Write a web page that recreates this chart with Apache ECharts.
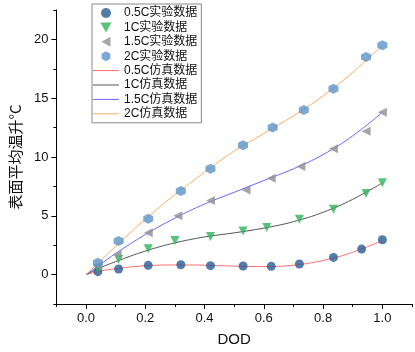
<!DOCTYPE html>
<html>
<head>
<meta charset="utf-8">
<script src="https://cdn.jsdelivr.net/npm/echarts@6/dist/echarts.min.js"></script>
<style>
  html, body { margin: 0; padding: 0; background: #fff; }
  #main { width: 415px; height: 352px; }
</style>
</head>
<body>
<div id="main"></div>
<script>
// 实验数据 (DOD, 温升)
var exp_05_x = [0.04, 0.11, 0.21, 0.32, 0.42, 0.53, 0.625, 0.72, 0.835, 0.93, 1.0];
var exp_05_y = [0.25, 0.48, 0.79, 0.84, 0.76, 0.73, 0.70, 0.90, 1.46, 2.17, 2.96];
var exp_1_x = [0.04, 0.11, 0.21, 0.30, 0.42, 0.53, 0.61, 0.72, 0.835, 0.945, 1.0];
var exp_1_y = [0.5, 1.3, 2.2, 2.9, 3.25, 3.7, 4.0, 4.7, 5.55, 6.9, 7.8];
var exp_15_x = [0.04, 0.105, 0.21, 0.31, 0.42, 0.54, 0.625, 0.725, 0.835, 0.945, 1.0];
var exp_15_y = [0.7, 1.7, 3.55, 5.0, 6.3, 7.2, 8.2, 9.2, 10.7, 12.2, 13.8];
var exp_2_x = [0.04, 0.11, 0.21, 0.32, 0.42, 0.53, 0.63, 0.735, 0.835, 0.945, 1.0];
var exp_2_y = [1.0, 2.85, 4.75, 7.1, 9.0, 11.0, 12.5, 14.0, 15.8, 18.5, 19.5];

// 仿真数据
var sim_x = [0, 0.05, 0.1, 0.2, 0.3, 0.4, 0.5, 0.6, 0.7, 0.8, 0.9, 1.0];
var sim_05 = [0, 0.3, 0.5, 0.75, 0.82, 0.8, 0.72, 0.68, 0.8, 1.2, 1.9, 2.9];
var sim_1 = [0, 0.6, 1.1, 2.0, 2.7, 3.2, 3.55, 3.95, 4.5, 5.3, 6.4, 7.8];
var sim_15 = [0, 0.9, 1.8, 3.4, 4.8, 6.0, 7.0, 8.0, 9.0, 10.2, 11.8, 13.8];
var sim_2 = [0, 1.2, 2.4, 4.7, 6.8, 8.7, 10.5, 12.0, 13.5, 15.2, 17.2, 19.5];

var x_labels = [0, 0.2, 0.4, 0.6, 0.8, 1.0];
var x_minor = [-0.1, 0.1, 0.3, 0.5, 0.7, 0.9, 1.1];
var y_labels = [0, 5, 10, 15, 20];
var y_minor = [-2.5, 2.5, 7.5, 12.5, 17.5, 22.5];

function pairs(xs, ys) {
    var out = [];
    for (var i = 0; i < xs.length; i++) {
        out.push([xs[i], ys[i]]);
    }
    return out;
}

var sym_down = 'path://M0,0 L10,0 L5,9 Z';
var sym_left = 'path://M9,0 L9,10 L0,5 Z';
var sym_hex = 'path://M5,0 L9.33,2.5 L9.33,7.5 L5,10 L0.67,7.5 L0.67,2.5 Z';
var sym_line = 'path://M0,0 L26,0 L26,1 L0,1 Z';

var font_en = 'Arial, "Liberation Sans", "Noto Sans CJK SC", sans-serif';

var myChart = echarts.init(document.getElementById('main'));
var option = {
    animation: false,
    textStyle: { fontFamily: font_en },
    grid: { left: 45, right: 3, top: 10, bottom: 47 },
    legend: {
        orient: 'vertical',
        left: 92,
        top: 4,
        padding: [3, 4, 3, 1],
        borderColor: '#888',
        borderWidth: 1,
        itemWidth: 26,
        itemHeight: 10,
        itemGap: 2.4,
        textStyle: { fontSize: 12, lineHeight: 12, color: '#111', fontFamily: font_en },
        data: [
            { name: '0.5C实验数据', icon: 'circle' },
            { name: '1C实验数据', icon: sym_down },
            { name: '1.5C实验数据', icon: sym_left },
            { name: '2C实验数据', icon: sym_hex },
            { name: '0.5C仿真数据', icon: sym_line },
            { name: '1C仿真数据', icon: sym_line },
            { name: '1.5C仿真数据', icon: sym_line },
            { name: '2C仿真数据', icon: sym_line }
        ]
    },
    xAxis: [
        {
            type: 'value',
            min: -0.1,
            max: 1.1,
            name: 'DOD',
            nameLocation: 'middle',
            nameGap: 28,
            nameTextStyle: { fontSize: 15, color: '#111' },
            splitLine: { show: false },
            axisLine: { onZero: false, lineStyle: { color: '#000', width: 1 } },
            axisTick: { customValues: x_labels, length: 5, lineStyle: { color: '#000' } },
            axisLabel: {
                customValues: x_labels,
                fontSize: 13,
                color: '#111',
                margin: 8,
                formatter: function (v) { return v.toFixed(1); }
            }
        },
        {
            type: 'value',
            min: -0.1,
            max: 1.1,
            position: 'bottom',
            offset: 0,
            splitLine: { show: false },
            axisLine: { show: false, onZero: false },
            axisTick: { customValues: x_minor, length: 3, lineStyle: { color: '#000' } },
            axisLabel: { show: false }
        }
    ],
    yAxis: [
        {
            type: 'value',
            min: -2.5,
            max: 22.5,
            name: '表面平均温升°C',
            nameLocation: 'middle',
            nameGap: 28,
            nameTextStyle: { fontSize: 15, color: '#111', fontFamily: '"Noto Sans CJK SC", sans-serif' },
            splitLine: { show: false },
            axisLine: { onZero: false, lineStyle: { color: '#000', width: 1 } },
            axisTick: { customValues: y_labels, length: 5, lineStyle: { color: '#000' } },
            axisLabel: { customValues: y_labels, fontSize: 13, color: '#111', margin: 8 }
        },
        {
            type: 'value',
            min: -2.5,
            max: 22.5,
            position: 'left',
            offset: 0,
            splitLine: { show: false },
            axisLine: { show: false, onZero: false },
            axisTick: { customValues: y_minor, length: 3, lineStyle: { color: '#000' } },
            axisLabel: { show: false }
        }
    ],
    series: [
        {
            name: '0.5C实验数据', type: 'scatter', z: 3,
            symbol: 'circle', symbolSize: 9,
            itemStyle: { color: '#2a5b92' },
            data: pairs(exp_05_x, exp_05_y)
        },
        {
            name: '1C实验数据', type: 'scatter', z: 3,
            symbol: sym_down, symbolSize: 9,
            itemStyle: { color: '#2fb35d' },
            data: pairs(exp_1_x, exp_1_y)
        },
        {
            name: '1.5C实验数据', type: 'scatter', z: 3,
            symbol: sym_left, symbolSize: 9,
            itemStyle: { color: '#8f8f8f' },
            data: pairs(exp_15_x, exp_15_y)
        },
        {
            name: '2C实验数据', type: 'scatter', z: 3,
            symbol: sym_hex, symbolSize: 10,
            itemStyle: { color: '#5b93c9' },
            data: pairs(exp_2_x, exp_2_y)
        },
        {
            name: '0.5C仿真数据', type: 'line', z: 2, smooth: 0.4, showSymbol: false,
            lineStyle: { color: '#ff6e6e', width: 1 }, itemStyle: { color: '#ff6e6e' },
            data: pairs(sim_x, sim_05)
        },
        {
            name: '1C仿真数据', type: 'line', z: 2, smooth: 0.4, showSymbol: false,
            lineStyle: { color: '#555555', width: 1 }, itemStyle: { color: '#555555' },
            data: pairs(sim_x, sim_1)
        },
        {
            name: '1.5C仿真数据', type: 'line', z: 2, smooth: 0.4, showSymbol: false,
            lineStyle: { color: '#6666ff', width: 1 }, itemStyle: { color: '#6666ff' },
            data: pairs(sim_x, sim_15)
        },
        {
            name: '2C仿真数据', type: 'line', z: 2, smooth: 0.4, showSymbol: false,
            lineStyle: { color: '#ffaa60', width: 1 }, itemStyle: { color: '#ffaa60' },
            data: pairs(sim_x, sim_2)
        }
    ]
};
myChart.setOption(option);
</script>
</body>
</html>
